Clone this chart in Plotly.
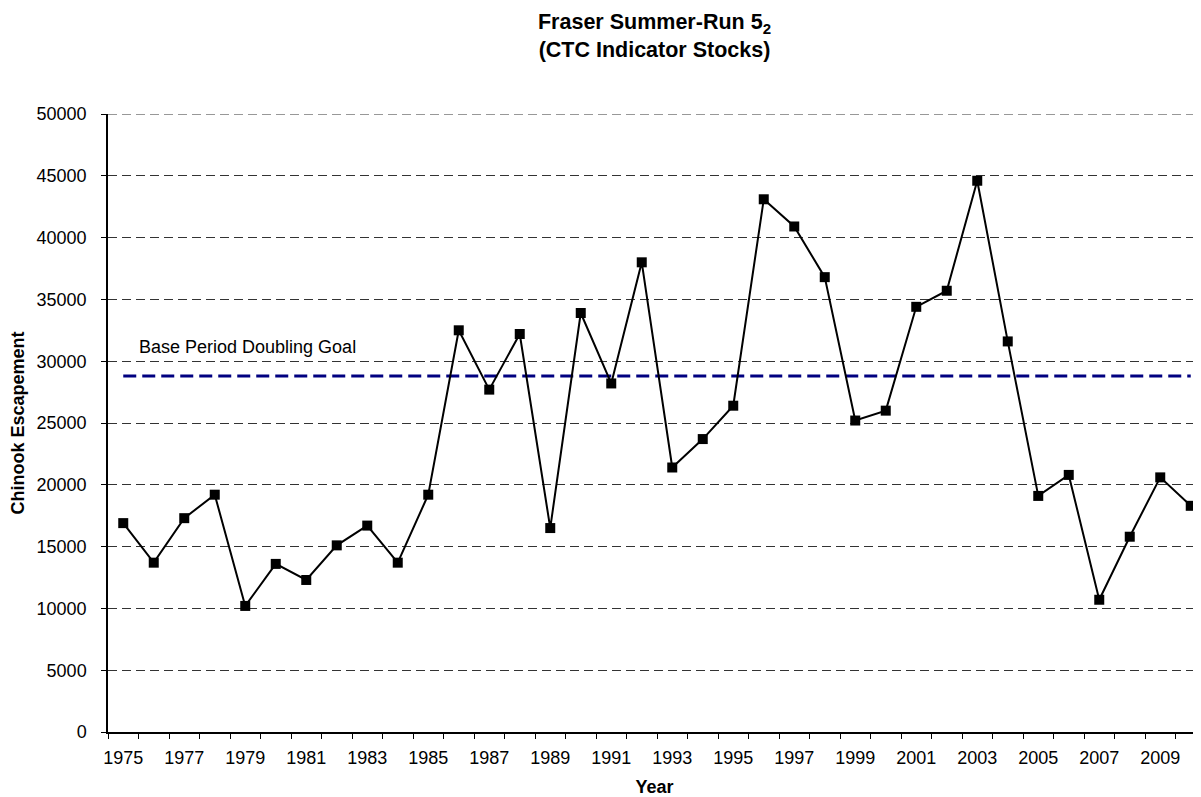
import plotly.graph_objects as go

# --- data ---
years = list(range(1975, 2011))
escapement = [16900, 13700, 17300, 19200, 10200, 13600, 12300, 15100, 16700, 13700,
              19200, 32500, 27700, 32200, 16500, 33900, 28200, 38000, 21400, 23700,
              26400, 43100, 40900, 36800, 25200, 26000, 34400, 35700, 44600, 31600,
              19100, 20800, 10700, 15800, 20600, 18300]
goal_value = 28800
goal_label = "Base Period Doubling Goal"
label_years = list(range(1975, 2011, 2))
y_max = 50000

FONT = "Arial, Liberation Sans, sans-serif"
AX = 18  # axis text size

# page body adds an 8px margin, so the figure is shrunk by that much
W, H = 1193, 789

fig = go.Figure()

# doubling goal (constant series, like the Excel original)
fig.add_trace(go.Scatter(x=years, y=[goal_value] * len(years), mode="lines",
                         line=dict(color="#000080", width=3, dash="13px,6px"),
                         hoverinfo="skip", showlegend=False))

# escapement series
fig.add_trace(go.Scatter(x=years, y=escapement, mode="lines+markers",
                         line=dict(color="black", width=2),
                         marker=dict(symbol="square", size=10, color="black"),
                         cliponaxis=False, showlegend=False))

fig.add_annotation(x=years[0] + 0.45, y=goal_value + 2350, xref="x", yref="y",
                   text=goal_label, showarrow=False, xanchor="left", yanchor="middle",
                   font=dict(family=FONT, size=AX, color="black"))

# plotly drops the gridline at the top edge; draw it like the others
fig.add_hline(y=y_max, line=dict(color="#333", width=1.2, dash="9px,5px"))

fig.update_layout(
    width=W, height=H,
    margin=dict(l=100, r=0, t=106, b=65),
    paper_bgcolor="white", plot_bgcolor="white",
    font=dict(family=FONT, size=AX, color="black"),
    title=dict(text="<b>Fraser Summer-Run 5<sub>2</sub><br>(CTC Indicator Stocks)</b>",
               x=0.5, xref="paper", xanchor="center",
               y=1 - 21 / H, yanchor="top",
               font=dict(family=FONT, size=21.5, color="black")),
)

fig.update_xaxes(
    range=[1974.5, 1974.5 + 1093 / 30.5],
    tickmode="array", tickvals=label_years, ticktext=[str(y) for y in label_years],
    ticks="", ticklabelstandoff=9,
    minor=dict(tickmode="array", tickvals=[y - 0.5 for y in years + [2011]],
               ticks="outside", ticklen=5, tickcolor="black", showgrid=False),
    showgrid=False, zeroline=False,
    showline=True, linecolor="black", linewidth=1.5,
    title=dict(text="<b>Year</b>", standoff=13, font=dict(family=FONT, size=AX, color="black")),
    tickfont=dict(family=FONT, size=AX, color="black"),
)

fig.update_yaxes(
    range=[0, y_max], tickmode="linear", tick0=0, dtick=5000, tickformat="d",
    ticks="outside", ticklen=5, tickcolor="black", ticklabelstandoff=11,
    showgrid=True, gridcolor="#333", gridwidth=1, griddash="9px,5px",
    zeroline=False,
    showline=True, linecolor="black", linewidth=1.5,
    title=dict(text="<b>Chinook Escapement</b>", standoff=7,
               font=dict(family=FONT, size=AX, color="black")),
    tickfont=dict(family=FONT, size=AX, color="black"),
)

fig.write_html("out.html")
